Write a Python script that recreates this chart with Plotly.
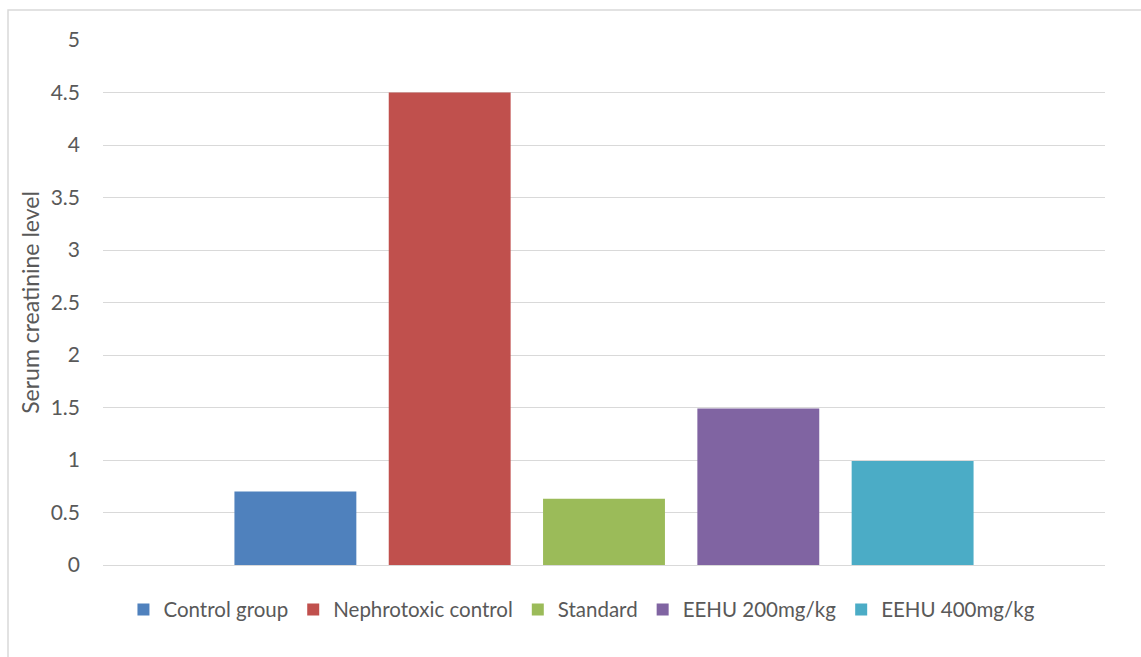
import plotly.graph_objects as go

# Serum creatinine by treatment group
groups = ["Control group", "Nephrotoxic control", "Standard", "EEHU 200mg/kg", "EEHU 400mg/kg"]
creatinine = [0.70, 4.50, 0.63, 1.49, 0.99]
colors = ["#4F81BD", "#C0504D", "#9BBB59", "#8064A2", "#4BACC6"]
y_ticks = [0, 0.5, 1, 1.5, 2, 2.5, 3, 3.5, 4, 4.5, 5]
y_tick_text = ["0", "0.5", "1", "1.5", "2", "2.5", "3", "3.5", "4", "4.5", "5"]

FONT = "Lato, Calibri, sans-serif"
TEXT = "#595959"
GRID = "#D9D9D9"

fig = go.Figure()
for name, val, col in zip(groups, creatinine, colors):
    fig.add_trace(go.Bar(x=[""], y=[val], name=name, marker=dict(color=col, line=dict(width=0))))

fig.update_layout(
    width=1141, height=657,
    margin=dict(l=103, r=36, t=40, b=92),
    paper_bgcolor="white", plot_bgcolor="white",
    barmode="group", bargap=0.23, bargroupgap=0.21,
    font=dict(family=FONT, size=21, color=TEXT),
    showlegend=True,
    legend=dict(orientation="h", x=0.478, xanchor="center", y=-0.085, yanchor="middle",
                font=dict(family=FONT, size=20.5, color=TEXT), itemwidth=30,
                traceorder="normal"),
    xaxis=dict(showticklabels=False, showgrid=False, zeroline=False, showline=False, ticks=""),
    yaxis=dict(range=[0, 5], tickvals=y_ticks, ticktext=y_tick_text, showgrid=True,
               gridcolor=GRID, gridwidth=1, zeroline=True, zerolinecolor=GRID, zerolinewidth=1,
               showline=False, ticks="", ticklabelstandoff=22,
               tickfont=dict(family=FONT, size=21, color=TEXT),
               title=dict(text="Serum creatinine level", font=dict(family=FONT, size=23, color=TEXT),
                          standoff=4)),
    shapes=[dict(type="rect", xref="paper", yref="paper", x0=-0.0948, x1=1.1, y0=-0.3, y1=1.0571,
                 line=dict(color=GRID, width=1.5), fillcolor="rgba(0,0,0,0)", layer="below")],
)

fig.write_html("out.html")
